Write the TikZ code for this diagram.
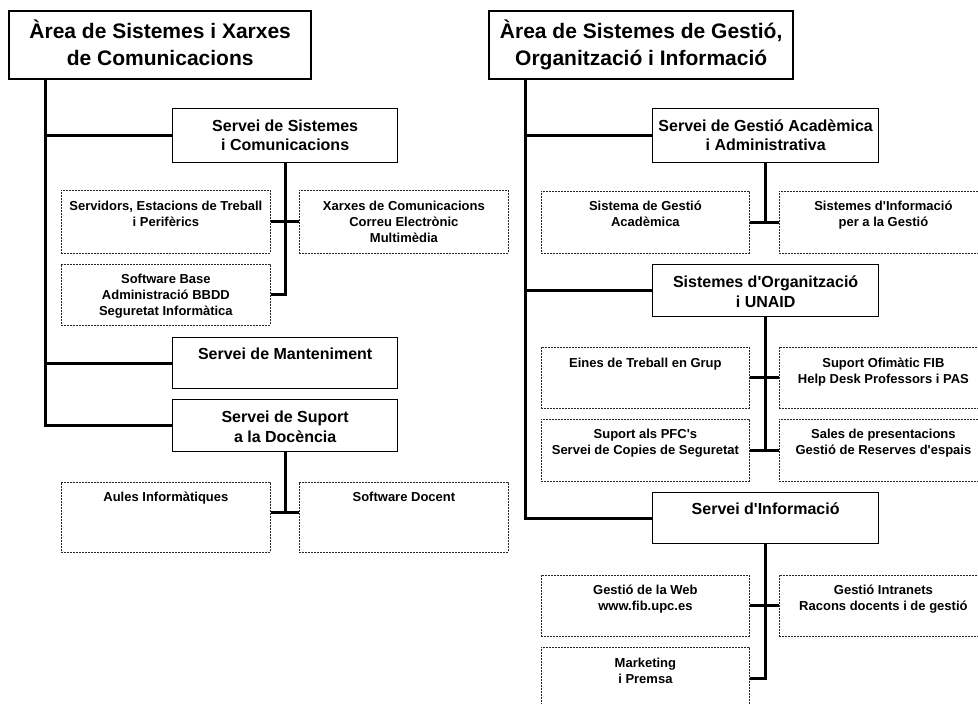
\documentclass[tikz,border=0pt]{standalone}
\usepackage{fontspec}
\setmainfont{Liberation Sans}
\usetikzlibrary{calc}
\newcommand{\caixa}[4]{\parbox[t][#2pt][t]{#1pt}{\centering\rule{0pt}{#3pt}#4}}
\newcommand{\ap}{\textquotesingle}

\begin{document}
\begin{tikzpicture}[x=1pt,y=-1pt,
  area/.style={draw,line width=2.4pt,inner sep=0pt,anchor=north west,font=\fontsize{21}{27}\selectfont\bfseries},
  servei/.style={draw,line width=1.3pt,inner sep=0pt,anchor=north west,font=\fontsize{16}{19.5}\selectfont\bfseries},
  grup/.style={draw=black!85,line width=0.8pt,dash pattern=on 2pt off 1pt,inner sep=0pt,anchor=north west,font=\fontsize{13}{16}\selectfont\bfseries},
  conn/.style={line width=3pt}]
\useasboundingbox (0,0) rectangle (978,704);
\clip (0,0) rectangle (978,704);

% left area
\node[area] (areaA) at (8,10) {\caixa{302}{68}{27.5}{Àrea de Sistemes i Xarxes\\de Comunicacions}};
\node[servei] (sisA) at (172,108) {\caixa{225}{54}{22.5}{Servei de Sistemes\\i Comunicacions}};
\node[grup] (srvA) at (61,190) {\caixa{209}{63}{20.5}{Servidors, Estacions de Treball\\i Perifèrics}};
\node[grup] (xarA) at (299,190) {\caixa{209}{63}{20}{Xarxes de Comunicacions\\Correu Electrònic\\Multimèdia}};
\node[grup] (swA) at (61,264) {\caixa{209}{61}{19}{Software Base\\Administració BBDD\\Seguretat Informàtica}};
\node[servei] (mantA) at (172,337) {\caixa{225}{51}{21.5}{Servei de Manteniment}};
\node[servei] (docA) at (172,399) {\caixa{225}{52}{23}{Servei de Suport\\a la Docència}};
\node[grup] (aulA) at (61,482) {\caixa{209}{70}{19.5}{Aules Informàtiques}};
\node[grup] (softA) at (299,482) {\caixa{209}{70}{19.5}{Software Docent}};

\coordinate (trkA) at ([xshift=37pt]areaA.south west);
\draw[conn] (trkA) |- (sisA.west);
\draw[conn] (trkA) |- (mantA.west);
\draw[conn] (trkA) |- (docA.west);
\draw[conn] (sisA.south) |- (swA.east);
\draw[conn] (srvA.east) -- (xarA.west);
\coordinate (jA) at ([yshift=5pt]aulA.east);
\draw[conn] (jA) -- (jA -| softA.west);
\draw[conn] (docA.south) -- (docA.south |- jA);

% right area
\node[area] (areaB) at (488,10) {\caixa{304}{68}{27.5}{Àrea de Sistemes de Gestió,\\Organització i Informació}};
\node[servei] (acadB) at (652,108) {\caixa{226}{54}{22.5}{Servei de Gestió Acadèmica\\i Administrativa}};
\node[grup] (sgaB) at (541,191) {\caixa{208}{62}{19.5}{Sistema de Gestió\\Acadèmica}};
\node[grup] (sigB) at (779,191) {\caixa{208}{62}{19.5}{Sistemes d\ap Informació\\per a la Gestió}};
\node[servei] (orgB) at (652,264) {\caixa{226}{52}{23}{Sistemes d\ap Organització\\i UNAID}};
\node[grup] (einB) at (541,347) {\caixa{208}{61}{20}{Eines de Treball en Grup}};
\node[grup] (ofiB) at (779,347) {\caixa{208}{61}{20}{Suport Ofimàtic FIB\\Help Desk Professors i PAS}};
\node[grup] (pfcB) at (541,419) {\caixa{208}{62}{19.5}{Suport als PFC\ap s\\Servei de Copies de Seguretat}};
\node[grup] (salB) at (779,419) {\caixa{208}{62}{19.5}{Sales de presentacions\\Gestió de Reserves d\ap espais}};
\node[servei] (infB) at (652,492) {\caixa{226}{51}{22}{Servei d\ap Informació}};
\node[grup] (webB) at (541,575) {\caixa{208}{61}{19.5}{Gestió de la Web\\www.fib.upc.es}};
\node[grup] (intB) at (779,575) {\caixa{208}{61}{19.5}{Gestió Intranets\\Racons docents i de gestió}};
\node[grup] (mktB) at (541,647) {\caixa{208}{62}{20}{Marketing\\i Premsa}};

\coordinate (trkB) at ([xshift=37pt]areaB.south west);
\draw[conn] (trkB) |- (acadB.west);
\draw[conn] (trkB) |- (orgB.west);
\draw[conn] (trkB) |- (infB.west);
\draw[conn] (acadB.south) -- (acadB.south |- sgaB.east);
\draw[conn] (sgaB.east) -- (sigB.west);
\draw[conn] (orgB.south) -- (orgB.south |- pfcB.east);
\draw[conn] (einB.east) -- (ofiB.west);
\draw[conn] (pfcB.east) -- (salB.west);
\draw[conn] (infB.south) |- (mktB.east);
\draw[conn] (webB.east) -- (intB.west);
\end{tikzpicture}
\end{document}
